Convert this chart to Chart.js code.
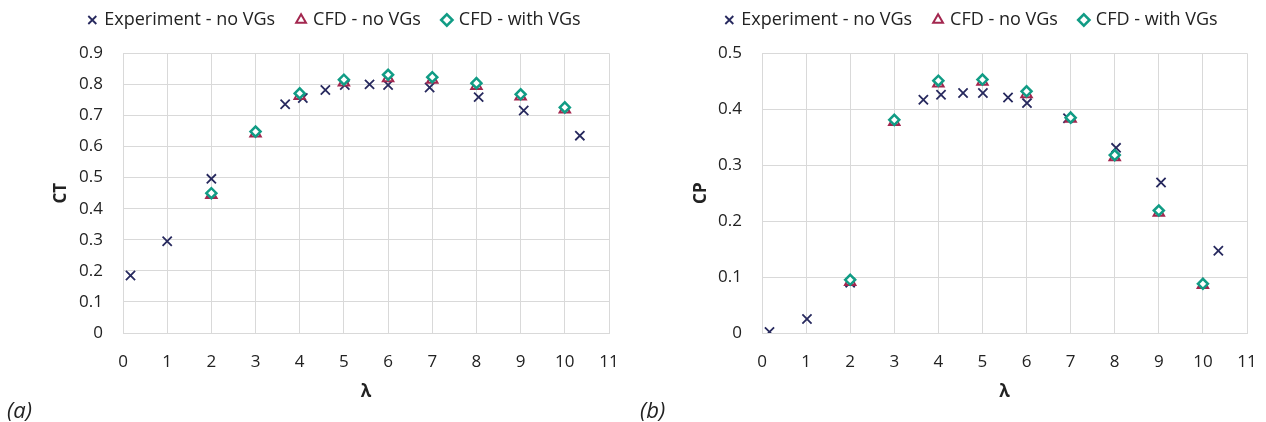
<!DOCTYPE html>
<html>
<head>
<meta charset="utf-8">
<script src="https://cdn.jsdelivr.net/npm/chart.js@4.4.1/dist/chart.umd.min.js"></script>
<style>
  body { margin: 0; background: #fff; width: 1266px; height: 422px; overflow: hidden; position: relative; font-family: 'Open Sans', sans-serif; }
  .box { position: absolute; top: -12px; height: 434px; }
  .tag { position: absolute; top: 394px; font-style: italic; font-size: 22px; color: #222; }
</style>
</head>
<body>
<div class="box" style="left:0;width:630px"><canvas id="ctChart"></canvas></div>
<div class="box" style="left:630px;width:636px"><canvas id="cpChart"></canvas></div>
<span class="tag" style="left:7px">(a)</span>
<span class="tag" style="left:640px">(b)</span>
<script>
console.info('charts loading')

// data
const seriesNames = ['Experiment - no VGs', 'CFD - no VGs', 'CFD - with VGs']
const lambdaExpCT = [0.17, 1.0, 2.0, 3.67, 4.07, 4.58, 5.02, 5.58, 6.0, 6.94, 8.05, 9.07, 10.34]
const ctExp = [0.185, 0.295, 0.496, 0.736, 0.756, 0.782, 0.798, 0.80, 0.798, 0.79, 0.759, 0.716, 0.635]
const lambdaExpCP = [0.17, 1.02, 2.0, 3.66, 4.06, 4.56, 5.01, 5.58, 6.01, 6.94, 8.03, 9.05, 10.35]
const cpExp = [0.002, 0.025, 0.09, 0.417, 0.426, 0.429, 0.429, 0.421, 0.411, 0.384, 0.331, 0.269, 0.147]
const lambdaCFD = [2, 3, 4, 5, 6, 7, 8, 9, 10]
const ctCfdNoVG = [0.444, 0.642, 0.763, 0.806, 0.82, 0.815, 0.795, 0.761, 0.719]
const ctCfdVG = [0.45, 0.648, 0.771, 0.815, 0.831, 0.823, 0.804, 0.768, 0.726]
const cpCfdNoVG = [0.091, 0.377, 0.446, 0.449, 0.427, 0.383, 0.314, 0.215, 0.086]
const cpCfdVG = [0.095, 0.381, 0.451, 0.453, 0.432, 0.385, 0.318, 0.219, 0.088]
const lambdaTicks = [0, 11, 1]   // min, max, step
const ctTicks = [0, 0.9, 0.1]
const cpTicks = [0, 0.5, 0.1]

const navy = '#27295e'
const crimson = '#a3274f'
const teal = '#119c85'
const gridColor = '#d9d9d9'
const textColor = '#222'

const pts = (xs, ys) => xs.map((x, i) => ({ x: x, y: ys[i] }))

// legend spacing trick: push the plot down below the legend
const legendGap = {
    id: 'legendGap',
    beforeInit(chart) {
        const fit = chart.legend.fit
        chart.legend.fit = function () {
            fit.bind(chart.legend)()
            this.height += 14.3
        }
    }
}

const makeChart = function (el, opt) {
    return new Chart(el, {
        type: 'scatter',
        data: {
            datasets: [{
                label: seriesNames[0],
                data: pts(opt.lamExp, opt.exp),
                pointStyle: 'crossRot',
                pointRadius: 6.5,
                borderColor: navy,
                backgroundColor: navy,
                borderWidth: 1.8,
                order: 3
            }, {
                label: seriesNames[1],
                data: pts(lambdaCFD, opt.cfdNo),
                pointStyle: 'triangle',
                pointRadius: 6,
                borderColor: crimson,
                backgroundColor: '#fff',
                borderWidth: 2,
                order: 2
            }, {
                label: seriesNames[2],
                data: pts(lambdaCFD, opt.cfdVg),
                pointStyle: 'rectRot',
                pointRadius: 5,
                borderColor: teal,
                backgroundColor: '#fff',
                borderWidth: 2.5,
                order: 1
            }]
        },
        options: {
            animation: false,
            responsive: true,
            maintainAspectRatio: false,
            events: [],
            layout: { padding: { left: opt.padL, right: opt.padR, top: 0, bottom: 16 } },
            plugins: {
                tooltip: { enabled: false },
                legend: {
                    position: 'top',
                    labels: {
                        usePointStyle: true,
                        boxWidth: 6,
                        boxHeight: 8,
                        padding: 23,
                        color: textColor,
                        font: { family: 'Open Sans', size: 18 },
                        sort: (a, b) => a.datasetIndex - b.datasetIndex
                    }
                }
            },
            scales: {
                x: {
                    type: 'linear',
                    min: lambdaTicks[0],
                    max: lambdaTicks[1],
                    afterFit: s => { s.height = 73 },
                    ticks: { stepSize: lambdaTicks[2], padding: 3, color: textColor, font: { family: 'Open Sans', size: 17 } },
                    grid: { color: gridColor, drawTicks: true, tickLength: 16, tickColor: 'rgba(0,0,0,0)' },
                    border: { color: gridColor },
                    title: { display: true, text: 'λ', color: textColor, font: { family: 'Open Sans', size: 17, weight: 'bold' } }
                },
                y: {
                    type: 'linear',
                    min: opt.yTicks[0],
                    max: opt.yTicks[1],
                    afterFit: s => { s.width = opt.yWidth },
                    ticks: { stepSize: opt.yTicks[2], padding: 20, color: textColor, font: { family: 'Open Sans', size: 17 } },
                    grid: { color: gridColor, drawTicks: false },
                    border: { color: gridColor },
                    title: { display: true, text: opt.yTitle, color: textColor, padding: { top: opt.titlePad, bottom: 0 },
                        font: { family: 'Open Sans', size: 17, weight: 'bold' } }
                }
            }
        },
        plugins: [legendGap]
    })
}

makeChart(document.getElementById('ctChart'), {
    lamExp: lambdaExpCT, exp: ctExp, cfdNo: ctCfdNoVG, cfdVg: ctCfdVG,
    yTicks: ctTicks, yTitle: 'CT', padL: 61, padR: 21, yWidth: 62, titlePad: -10.2
})

makeChart(document.getElementById('cpChart'), {
    lamExp: lambdaExpCP, exp: cpExp, cfdNo: cpCfdNoVG, cfdVg: cpCfdVG,
    yTicks: cpTicks, yTitle: 'CP', padL: 67, padR: 19, yWidth: 65, titlePad: -6.2
})
</script>
</body>
</html>
